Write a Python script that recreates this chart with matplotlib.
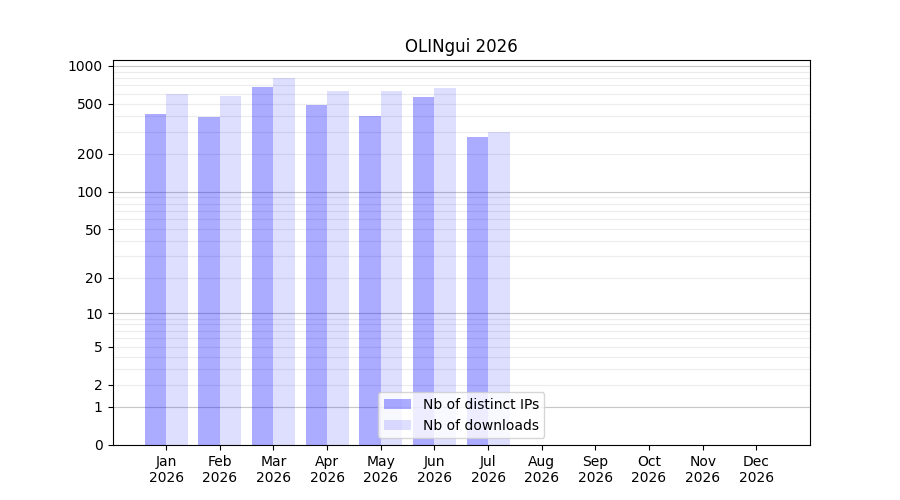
import matplotlib
matplotlib.use("Agg")
import matplotlib.pyplot as plt
import numpy as np

MONTHS = ["Jan", "Feb", "Mar", "Apr", "May", "Jun",
          "Jul", "Aug", "Sep", "Oct", "Nov", "Dec"]
YEAR = "2026"
IPS = [415, 393, 679, 489, 400, 566, 272, 0, 0, 0, 0, 0]
DOWNLOADS = [598, 576, 804, 631, 631, 667, 298, 0, 0, 0, 0, 0]
YTICKS = [0, 1, 2, 5, 10, 20, 50, 100, 200, 500, 1000]


def fwd(y):
    return np.log10(np.maximum(y, 0) + 1)


def inv(y):
    return 10 ** y - 1


fig, ax = plt.subplots(figsize=(9, 5), dpi=100)
x = np.arange(len(MONTHS))

ax.bar(x, IPS, width=-0.4, align="edge", color="blue", alpha=0.33,
       label="Nb of distinct IPs", zorder=2)
ax.bar(x, DOWNLOADS, width=0.4, align="edge", color="blue", alpha=0.13,
       label="Nb of downloads", zorder=2)

ax.set_yscale("function", functions=(fwd, inv))
ax.set_yticks(YTICKS)
ax.set_yticklabels([str(t) for t in YTICKS])
minor = [m * 10 ** d for d in range(0, 3) for m in range(2, 10)]
ax.set_yticks(minor, minor=True)
ax.tick_params(axis="y", which="minor", length=0)
ax.set_axisbelow(True)
ax.grid(True, axis="y", which="both", color="#ececec", linewidth=0.8)
# darker lines on the decades
for d in [1, 10, 100, 1000]:
    ax.axhline(d, color="#c8c8c8", linewidth=0.8, zorder=1)

ax.set_xticks(x)
ax.set_xticklabels([f"{m}\n{YEAR}" for m in MONTHS])
ax.set_xlim(-1, 12)
ax.set_ylim(0, 1110)

ax.set_title(f"OLINgui {YEAR}")
ax.legend(loc="lower center")

fig.savefig("out.png")
